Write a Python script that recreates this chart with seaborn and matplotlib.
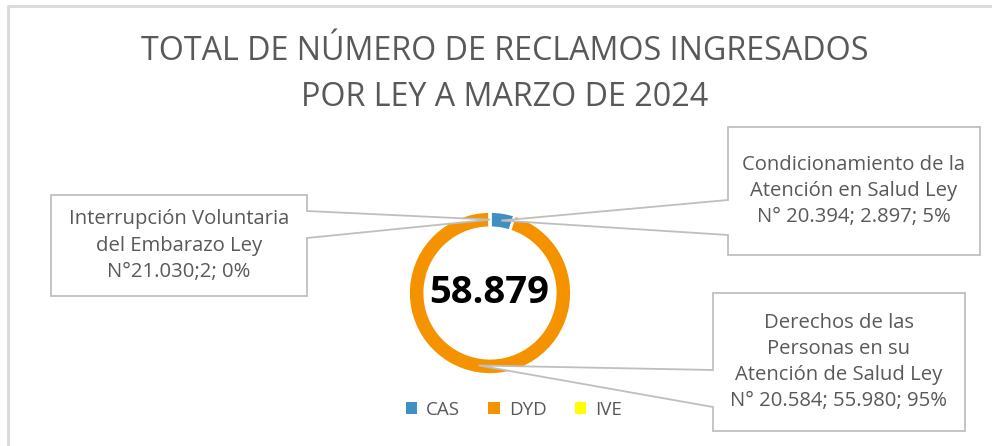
import matplotlib
matplotlib.use('Agg')
import matplotlib.pyplot as plt
import seaborn as sns
import numpy as np
from matplotlib.patches import Polygon, Patch

# data
categories = ['CAS', 'DYD', 'IVE']
values = [2897, 55980, 2]
laws = [
    'Condicionamiento de la\nAtención en Salud Ley\nN° 20.394; ',
    'Derechos de las\nPersonas en su\nAtención de Salud Ley\nN° 20.584; ',
    'Interrupción Voluntaria\ndel Embarazo Ley\nN°21.030;',
]
seps = ['; ', '; ', '; ']
colors = ['#3f8fc0', '#f59200', '#ffff00']
title = 'TOTAL DE NÚMERO DE RECLAMOS INGRESADOS\nPOR LEY A MARZO DE 2024'

sns.set_theme(style='white')
plt.rcParams['font.family'] = ['Open Sans', 'DejaVu Sans']
TXT = '#595959'
EDGE = '#bfbfbf'

W, H = 992, 446
fig = plt.figure(figsize=(W / 100, H / 100), dpi=100)

# donut
cx, cy, R = 490, 293, 81.5
ax = fig.add_axes([(cx - R) / W, (H - cy - R) / H, 2 * R / W, 2 * R / H])
ax.pie(values, colors=colors, startangle=90, counterclock=False,
       wedgeprops=dict(width=0.2, edgecolor='white', linewidth=2))
ax.set_xlim(-1, 1)
ax.set_ylim(-1, 1)

# overlay in pixel coords
ov = fig.add_axes([0, 0, 1, 1], zorder=5)
ov.set_xlim(0, W)
ov.set_ylim(H, 0)
ov.axis('off')

ov.plot([8, W], [6, 6], color='#d9d9d9', lw=2, clip_on=False)
ov.plot([8, 8], [6, H], color='#d9d9d9', lw=2, clip_on=False)

ov.text(505, 74, title, ha='center', va='center', fontsize=23.2, color=TXT,
        linespacing=1.52)

total = sum(values)
ov.text(cx - 1, cy, f'{total:,}'.replace(',', '.'), ha='center', va='center',
        fontsize=27.5, fontweight='bold', color='black')

# callouts: box (x0, y0, x1, y1), side of pointer, attach y's
boxes = {
    'CAS': ((728, 127, 980, 255), 'left', (200, 235)),
    'DYD': ((713, 293, 965, 431), 'left', (370, 407)),
    'IVE': ((51, 195, 307, 296), 'right', (211, 238)),
}
r_mid = R * 0.9
cum = 0
for cat, v, law, sep in zip(categories, values, laws, seps):
    theta = np.deg2rad((cum + v / 2) / total * 360)
    cum += v
    tx = cx + r_mid * np.sin(theta)
    ty = cy - r_mid * np.cos(theta)
    (x0, y0, x1, y1), side, (a1, a2) = boxes[cat]
    if side == 'left':
        pts = [(x0, y0), (x1, y0), (x1, y1), (x0, y1), (x0, a2), (tx, ty), (x0, a1)]
    else:
        pts = [(x0, y0), (x1, y0), (x1, a1), (tx, ty), (x1, a2), (x1, y1), (x0, y1)]
    ov.add_patch(Polygon(pts, closed=True, facecolor='white', edgecolor=EDGE, lw=1.3))
    pct = round(v / total * 100)
    label = f'{law}{v:,}'.replace(',', '.') + f'{sep}{pct}%'
    ov.text((x0 + x1) / 2, (y0 + y1) / 2, label, ha='center', va='center',
            fontsize=14.6, color=TXT, linespacing=1.42)

handles = [Patch(facecolor=c, edgecolor='none', label=l) for c, l in zip(colors, categories)]
fig.legend(handles=handles, loc='center', bbox_to_anchor=(514 / W, 1 - 410 / H),
           ncol=3, frameon=False, fontsize=13.5, labelcolor=TXT,
           handlelength=0.6, handleheight=0.6, handletextpad=0.5, columnspacing=1.5)

fig.savefig('out.png', dpi=100)
